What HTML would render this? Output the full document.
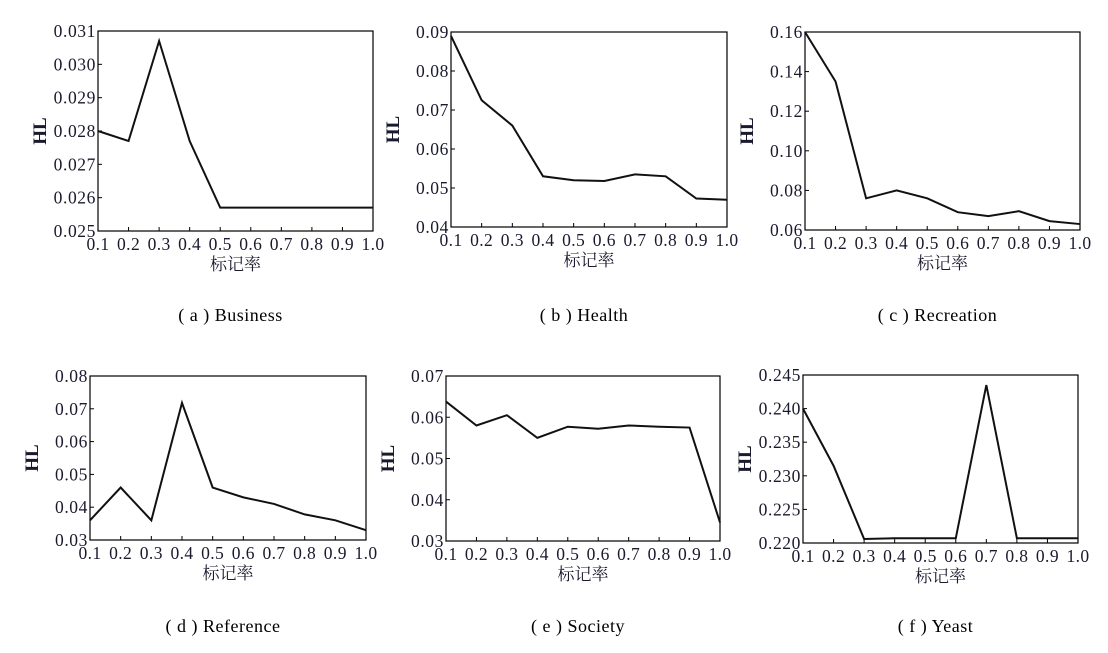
<!DOCTYPE html>
<html><head><meta charset="utf-8"><style>
body{margin:0;background:#fff;width:1108px;height:648px;overflow:hidden}
svg{font-family:"Liberation Serif","Noto Serif CJK SC",serif}
</style></head><body>
<svg id="s" width="1108" height="648" xmlns="http://www.w3.org/2000/svg"></svg>
<script>
const P=[
{x0:98,x1:373,y0:31,y1:231,lo:0.025,hi:0.031,step:0.001,dec:3,cap:"( a ) Business",
 d:[0.0280,0.0277,0.0307,0.0277,0.0257,0.0257,0.0257,0.0257,0.0257,0.0257]},
{x0:451,x1:727,y0:32,y1:227,lo:0.04,hi:0.09,step:0.01,dec:2,cap:"( b ) Health",
 d:[0.089,0.0725,0.066,0.053,0.052,0.0518,0.0535,0.053,0.0473,0.047]},
{x0:805,x1:1080,y0:32,y1:230,lo:0.06,hi:0.16,step:0.02,dec:2,cap:"( c ) Recreation",
 d:[0.16,0.135,0.076,0.080,0.076,0.069,0.067,0.0695,0.0645,0.063]},
{x0:90,x1:366,y0:376,y1:540,lo:0.03,hi:0.08,step:0.01,dec:2,cap:"( d ) Reference",
 d:[0.036,0.046,0.036,0.0718,0.046,0.043,0.041,0.0378,0.036,0.033]},
{x0:446,x1:720,y0:376,y1:541,lo:0.03,hi:0.07,step:0.01,dec:2,cap:"( e ) Society",
 d:[0.0638,0.058,0.0605,0.055,0.0577,0.0572,0.058,0.0577,0.0575,0.0345]},
{x0:803,x1:1078,y0:375,y1:543,lo:0.22,hi:0.245,step:0.005,dec:3,cap:"( f ) Yeast",
 d:[0.240,0.2315,0.2206,0.2207,0.2207,0.2207,0.2435,0.2207,0.2207,0.2207]}
];
let h="";const C="#1a1a2e";
P.forEach((p,i)=>{
 const X=k=>p.x0+(p.x1-p.x0)*k/9, Y=v=>p.y1-(p.y1-p.y0)*(v-p.lo)/(p.hi-p.lo);
 h+=`<rect x="${p.x0}" y="${p.y0}" width="${p.x1-p.x0}" height="${p.y1-p.y0}" fill="none" stroke="#000" stroke-width="1.2"/>`;
 const n=Math.round((p.hi-p.lo)/p.step);
 for(let j=0;j<=n;j++){const v=p.lo+j*p.step,y=Y(v);
  h+=`<line x1="${p.x0}" x2="${p.x0+4}" y1="${y}" y2="${y}" stroke="#000"/>`;
  h+=`<text x="${p.x0-2}" y="${y+6}" font-size="17.5" letter-spacing="0.6" text-anchor="end" fill="${C}">${v.toFixed(p.dec)}</text>`;}
 for(let k=0;k<10;k++){const x=X(k);
  h+=`<line x1="${x}" x2="${x}" y1="${p.y1}" y2="${p.y1-4}" stroke="#000"/>`;
  h+=`<text x="${x}" y="${p.y1+19}" font-size="17.5" letter-spacing="0.4" text-anchor="middle" fill="${C}">${((k+1)/10).toFixed(1)}</text>`;}
 h+=`<polyline fill="none" stroke="#111" stroke-width="2" points="${p.d.map((v,k)=>X(k)+","+Y(v)).join(" ")}"/>`;
 const cx=(p.x0+p.x1)/2;
 h+=`<text x="${cx}" y="${p.y1+39}" font-size="17" text-anchor="middle" fill="${C}">标记率</text>`;
 const hx=p.x0-52,hy=(p.y0+p.y1)/2;
 h+=`<text x="${hx}" y="${hy}" font-size="19" font-weight="bold" text-anchor="middle" transform="rotate(-90 ${hx} ${hy})" fill="${C}">HL</text>`;
 h+=`<text x="${cx-5}" y="${i<3?321:632}" font-size="18" letter-spacing="0.5" text-anchor="middle" fill="#000">${p.cap}</text>`;
});
document.getElementById("s").innerHTML=h;
</script>
</body></html>
